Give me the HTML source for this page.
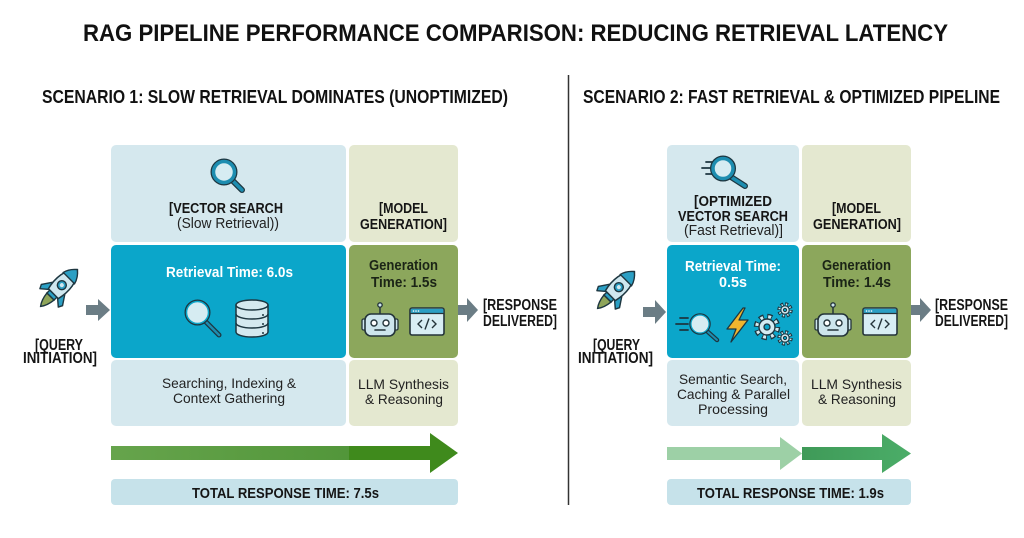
<!DOCTYPE html>
<html>
<head>
<meta charset="utf-8">
<style>
html,body{margin:0;padding:0;background:#fff;}
svg{display:block;}
text{font-family:"Liberation Sans",Arial,sans-serif;}
</style>
</head>
<body>
<svg width="1024" height="538" viewBox="0 0 1024 538" xmlns="http://www.w3.org/2000/svg">
<defs>
  <linearGradient id="g1" x1="0" x2="1" y1="0" y2="0">
    <stop offset="0" stop-color="#66a44c"/>
    <stop offset="1" stop-color="#52963a"/>
  </linearGradient>
  <linearGradient id="g2" x1="0" x2="1" y1="0" y2="0">
    <stop offset="0" stop-color="#3f9a58"/>
    <stop offset="1" stop-color="#4bad68"/>
  </linearGradient>
  <g id="rocket">
    <path d="M-5,12 Q-4,21 0,26 Q4,21 5,12Z" fill="#8fa55a" stroke="#1d3640" stroke-width="1.4"/>
    <path d="M-7,-2 L-15,10 L-13,14 L-6,8Z" fill="#2b9fc4" stroke="#1d3640" stroke-width="1.4" stroke-linejoin="round"/>
    <path d="M7,-2 L15,10 L13,14 L6,8Z" fill="#2b9fc4" stroke="#1d3640" stroke-width="1.4" stroke-linejoin="round"/>
    <rect x="-5" y="7" width="10" height="5" fill="#2b9fc4" stroke="#1d3640" stroke-width="1.4"/>
    <path d="M0,-26 C9,-18 10,-4 7,8 L-7,8 C-10,-4 -9,-18 0,-26Z" fill="#cfe7ef" stroke="#1d3640" stroke-width="1.5"/>
    <path d="M0,-26 C5,-22 7,-18 8,-14 L-8,-14 C-7,-18 -5,-22 0,-26Z" fill="#2b9fc4" stroke="#1d3640" stroke-width="1.4"/>
    <circle cx="0" cy="-4" r="4.5" fill="#2b9fc4" stroke="#1d3640" stroke-width="1.4"/>
    <circle cx="0" cy="-4" r="2" fill="#cfe7ef"/>
  </g>
  <g id="robot">
    <line x1="17" y1="4" x2="17" y2="12" stroke="#24343a" stroke-width="1.5"/>
    <circle cx="17" cy="3" r="2.2" fill="#cde5ec" stroke="#24343a" stroke-width="1.3"/>
    <rect x="-1" y="17" width="4" height="11" rx="1.5" fill="#cde5ec" stroke="#24343a" stroke-width="1.3"/>
    <rect x="31" y="17" width="4" height="11" rx="1.5" fill="#cde5ec" stroke="#24343a" stroke-width="1.3"/>
    <rect x="2" y="12" width="30" height="22" rx="6" fill="#cde5ec" stroke="#24343a" stroke-width="1.6"/>
    <circle cx="11" cy="21" r="3" fill="#fff" stroke="#24343a" stroke-width="1.4"/>
    <circle cx="23" cy="21" r="3" fill="#fff" stroke="#24343a" stroke-width="1.4"/>
    <line x1="12" y1="28" x2="22" y2="28" stroke="#24343a" stroke-width="1.6" stroke-linecap="round"/>
  </g>
  <g id="code">
    <rect x="0" y="0" width="34" height="27" rx="2" fill="#d8eef4" stroke="#24343a" stroke-width="1.6"/>
    <rect x="0.8" y="0.8" width="32.4" height="4.5" fill="#2b9fc4"/>
    <line x1="0" y1="5.5" x2="34" y2="5.5" stroke="#24343a" stroke-width="1.2"/>
    <circle cx="3.5" cy="3" r="0.8" fill="#fff"/><circle cx="6" cy="3" r="0.8" fill="#fff"/><circle cx="8.5" cy="3" r="0.8" fill="#fff"/>
    <path d="M12,12 L8,16 L12,20" fill="none" stroke="#24343a" stroke-width="1.4"/>
    <path d="M22,12 L26,16 L22,20" fill="none" stroke="#24343a" stroke-width="1.4"/>
    <line x1="19" y1="10.5" x2="15" y2="21.5" stroke="#24343a" stroke-width="1.4"/>
  </g>
</defs>

<!-- Title -->
<text x="83" y="41" font-size="24" font-weight="bold" fill="#111" textLength="865" lengthAdjust="spacingAndGlyphs">RAG PIPELINE PERFORMANCE COMPARISON: REDUCING RETRIEVAL LATENCY</text>
<text x="42" y="103" font-size="18" font-weight="bold" fill="#111" textLength="466" lengthAdjust="spacingAndGlyphs">SCENARIO 1: SLOW RETRIEVAL DOMINATES (UNOPTIMIZED)</text>
<text x="583" y="103" font-size="18" font-weight="bold" fill="#111" textLength="417" lengthAdjust="spacingAndGlyphs">SCENARIO 2: FAST RETRIEVAL &amp; OPTIMIZED PIPELINE</text>

<!-- Divider -->
<line x1="568.5" y1="75" x2="568.5" y2="505" stroke="#333" stroke-width="1.5"/>

<!-- ===== Scenario 1 ===== -->
<rect x="111" y="145" width="235" height="97" rx="5" fill="#d5e8ee"/>
<rect x="111" y="245" width="235" height="113" rx="5" fill="#0ba6ca"/>
<rect x="111" y="360" width="235" height="66" rx="5" fill="#d5e8ee"/>
<rect x="349" y="145" width="109" height="97" rx="5" fill="#e4e8d0"/>
<rect x="349" y="245" width="109" height="113" rx="5" fill="#8ca75c"/>
<rect x="349" y="360" width="109" height="66" rx="5" fill="#e4e8d0"/>

<!-- top magnifier -->
<line x1="232" y1="180" x2="242" y2="190" stroke="#1d3640" stroke-width="6" stroke-linecap="round"/>
<line x1="232" y1="180" x2="242" y2="190" stroke="#1d8db0" stroke-width="3.5" stroke-linecap="round"/>
<circle cx="224" cy="172" r="10.5" fill="#d6ecf2" stroke="#1d3640" stroke-width="6"/>
<circle cx="224" cy="172" r="10.5" fill="#d6ecf2" stroke="#1d8db0" stroke-width="3.5"/>

<text x="169" y="213" font-size="14.5" font-weight="bold" fill="#151515" textLength="114" lengthAdjust="spacingAndGlyphs">[VECTOR SEARCH</text>
<text x="177" y="228" font-size="14.5" fill="#222" textLength="102" lengthAdjust="spacingAndGlyphs">(Slow Retrieval))</text>

<text x="166" y="277" font-size="14.5" font-weight="bold" fill="#fff" textLength="127" lengthAdjust="spacingAndGlyphs">Retrieval Time: 6.0s</text>
<!-- mid magnifier -->
<line x1="206" y1="322" x2="219" y2="335" stroke="#1d3640" stroke-width="5" stroke-linecap="round"/>
<line x1="206" y1="322" x2="219" y2="335" stroke="#1d8db0" stroke-width="2.5" stroke-linecap="round"/>
<circle cx="197.5" cy="312.5" r="11" fill="#d6ecf2" stroke="#1d3640" stroke-width="4"/>
<circle cx="197.5" cy="312.5" r="11" fill="#d6ecf2" stroke="#0ba6ca" stroke-width="1.5"/>
<!-- database -->
<path d="M236,305 L236,332 A16,5 0 0 0 268,332 L268,305" fill="#d4e9ef" stroke="#1d3640" stroke-width="1.5"/>
<path d="M236,314 A16,5 0 0 0 268,314 M236,323 A16,5 0 0 0 268,323" fill="none" stroke="#1d3640" stroke-width="1.5"/>
<ellipse cx="252" cy="305" rx="16" ry="5" fill="#d4e9ef" stroke="#1d3640" stroke-width="1.5"/>
<circle cx="263" cy="315" r="1" fill="#1d3640"/><circle cx="263" cy="324" r="1" fill="#1d3640"/><circle cx="263" cy="333" r="1" fill="#1d3640"/>

<text x="162" y="388" font-size="14" fill="#222" textLength="134" lengthAdjust="spacingAndGlyphs">Searching, Indexing &amp;</text>
<text x="173" y="403" font-size="14" fill="#222" textLength="112" lengthAdjust="spacingAndGlyphs">Context Gathering</text>

<text x="379" y="213" font-size="14.5" font-weight="bold" fill="#151515" textLength="49" lengthAdjust="spacingAndGlyphs">[MODEL</text>
<text x="360" y="229" font-size="14.5" font-weight="bold" fill="#151515" textLength="87" lengthAdjust="spacingAndGlyphs">GENERATION]</text>
<text x="369" y="270" font-size="14.5" font-weight="bold" fill="#1b2416" textLength="69" lengthAdjust="spacingAndGlyphs">Generation</text>
<text x="371" y="287" font-size="14.5" font-weight="bold" fill="#1b2416" textLength="66" lengthAdjust="spacingAndGlyphs">Time: 1.5s</text>
<use href="#robot" x="363" y="302"/>
<use href="#code" x="410" y="308"/>
<text x="358" y="389" font-size="14" fill="#222" textLength="91" lengthAdjust="spacingAndGlyphs">LLM Synthesis</text>
<text x="365" y="404" font-size="14" fill="#222" textLength="78" lengthAdjust="spacingAndGlyphs">&amp; Reasoning</text>

<!-- rocket + arrows S1 -->
<use href="#rocket" transform="translate(59,288) rotate(45)"/>
<path d="M86,305 L98,305 L98,299 L110,310 L98,321 L98,315 L86,315Z" fill="#6b7d85"/>
<path d="M458,305 L467,305 L467,298 L478,310 L467,322 L467,315 L458,315Z" fill="#6b7d85"/>
<text x="35" y="350" font-size="16" font-weight="bold" fill="#151515" textLength="48" lengthAdjust="spacingAndGlyphs">[QUERY</text>
<text x="23" y="363" font-size="16" font-weight="bold" fill="#151515" textLength="74" lengthAdjust="spacingAndGlyphs">INITIATION]</text>
<text x="483" y="310" font-size="15.5" font-weight="bold" fill="#151515" textLength="74" lengthAdjust="spacingAndGlyphs">[RESPONSE</text>
<text x="483" y="326" font-size="15.5" font-weight="bold" fill="#151515" textLength="74" lengthAdjust="spacingAndGlyphs">DELIVERED]</text>

<!-- S1 big arrow -->
<rect x="111" y="446" width="238" height="14" fill="url(#g1)"/>
<path d="M349,446 L430,446 L430,433 L458,453 L430,473 L430,460 L349,460Z" fill="#3f8a1c"/>
<rect x="111" y="479" width="347" height="26" rx="4" fill="#c6e2ea"/>
<text x="192" y="498" font-size="15" font-weight="bold" fill="#151515" textLength="187" lengthAdjust="spacingAndGlyphs">TOTAL RESPONSE TIME: 7.5s</text>

<!-- ===== Scenario 2 ===== -->
<rect x="667" y="145" width="132" height="97" rx="5" fill="#d5e8ee"/>
<rect x="667" y="245" width="132" height="113" rx="5" fill="#0ba6ca"/>
<rect x="667" y="360" width="132" height="66" rx="5" fill="#d5e8ee"/>
<rect x="802" y="145" width="109" height="97" rx="5" fill="#e4e8d0"/>
<rect x="802" y="245" width="109" height="113" rx="5" fill="#8ca75c"/>
<rect x="802" y="360" width="109" height="66" rx="5" fill="#e4e8d0"/>

<!-- top fast magnifier -->
<g stroke="#1d3640" stroke-width="1.8" stroke-linecap="round">
  <line x1="706" y1="162" x2="713" y2="162"/>
  <line x1="702" y1="168" x2="711" y2="168"/>
  <line x1="706" y1="174" x2="712" y2="174"/>
</g>
<line x1="731" y1="177" x2="745" y2="186" stroke="#1d3640" stroke-width="6" stroke-linecap="round"/>
<line x1="731" y1="177" x2="745" y2="186" stroke="#1d8db0" stroke-width="3.5" stroke-linecap="round"/>
<circle cx="723" cy="168.5" r="10" fill="#d6ecf2" stroke="#1d3640" stroke-width="6"/>
<circle cx="723" cy="168.5" r="10" fill="#d6ecf2" stroke="#1d8db0" stroke-width="3.5"/>

<text x="694" y="206" font-size="14.5" font-weight="bold" fill="#151515" textLength="78" lengthAdjust="spacingAndGlyphs">[OPTIMIZED</text>
<text x="678" y="221" font-size="14.5" font-weight="bold" fill="#151515" textLength="110" lengthAdjust="spacingAndGlyphs">VECTOR SEARCH</text>
<text x="684" y="235" font-size="14.5" fill="#222" textLength="99" lengthAdjust="spacingAndGlyphs">(Fast Retrieval)]</text>

<text x="685" y="271" font-size="14.5" font-weight="bold" fill="#fff" textLength="96" lengthAdjust="spacingAndGlyphs">Retrieval Time:</text>
<text x="719" y="287" font-size="14.5" font-weight="bold" fill="#fff" textLength="28" lengthAdjust="spacingAndGlyphs">0.5s</text>

<!-- mid icons S2 -->
<g stroke="#1d3640" stroke-width="1.8" stroke-linecap="round">
  <line x1="680" y1="318" x2="688" y2="318"/>
  <line x1="676" y1="324" x2="688" y2="324"/>
  <line x1="680" y1="330" x2="688" y2="330"/>
</g>
<line x1="708" y1="332" x2="717" y2="340" stroke="#1d3640" stroke-width="4.5" stroke-linecap="round"/>
<line x1="708" y1="332" x2="717" y2="340" stroke="#1d8db0" stroke-width="2" stroke-linecap="round"/>
<circle cx="700" cy="324" r="9" fill="#d6ecf2" stroke="#1d3640" stroke-width="3.5"/>
<circle cx="700" cy="324" r="9" fill="#d6ecf2" stroke="#0ba6ca" stroke-width="1.2"/>
<path d="M743,308 L727,329 L736,329 L731,342 L748,320 L739,320 L745,308Z" fill="#f0b52e" stroke="#1d3640" stroke-width="1.3" stroke-linejoin="round"/>
<!-- gears (outlined teeth) -->
<circle cx="767" cy="327" r="10" fill="none" stroke="#1d3640" stroke-width="6.5" stroke-dasharray="4.6 3.25"/>
<circle cx="767" cy="327" r="10" fill="none" stroke="#d4ecf2" stroke-width="3.6" stroke-dasharray="2.8 5.05" stroke-dashoffset="-0.9"/>
<circle cx="767" cy="327" r="8" fill="#d4ecf2" stroke="#1d3640" stroke-width="1.4"/>
<circle cx="767" cy="327" r="3" fill="#0ba6ca" stroke="#1d3640" stroke-width="1.3"/>
<circle cx="785" cy="310" r="5.5" fill="none" stroke="#1d3640" stroke-width="4.5" stroke-dasharray="2.6 1.72"/>
<circle cx="785" cy="310" r="5.5" fill="none" stroke="#d4ecf2" stroke-width="2.2" stroke-dasharray="1.2 3.12" stroke-dashoffset="-0.7"/>
<circle cx="785" cy="310" r="4.2" fill="#d4ecf2" stroke="#1d3640" stroke-width="1.1"/>
<circle cx="785" cy="310" r="1.6" fill="#0ba6ca" stroke="#1d3640" stroke-width="1"/>
<circle cx="785" cy="338" r="5.5" fill="none" stroke="#1d3640" stroke-width="4.5" stroke-dasharray="2.6 1.72"/>
<circle cx="785" cy="338" r="5.5" fill="none" stroke="#d4ecf2" stroke-width="2.2" stroke-dasharray="1.2 3.12" stroke-dashoffset="-0.7"/>
<circle cx="785" cy="338" r="4.2" fill="#d4ecf2" stroke="#1d3640" stroke-width="1.1"/>
<circle cx="785" cy="338" r="1.6" fill="#0ba6ca" stroke="#1d3640" stroke-width="1"/>

<text x="679" y="384" font-size="14" fill="#222" textLength="108" lengthAdjust="spacingAndGlyphs">Semantic Search,</text>
<text x="677" y="399" font-size="14" fill="#222" textLength="113" lengthAdjust="spacingAndGlyphs">Caching &amp; Parallel</text>
<text x="698" y="414" font-size="14" fill="#222" textLength="70" lengthAdjust="spacingAndGlyphs">Processing</text>

<text x="832" y="213" font-size="14.5" font-weight="bold" fill="#151515" textLength="49" lengthAdjust="spacingAndGlyphs">[MODEL</text>
<text x="813" y="229" font-size="14.5" font-weight="bold" fill="#151515" textLength="88" lengthAdjust="spacingAndGlyphs">GENERATION]</text>
<text x="822" y="270" font-size="14.5" font-weight="bold" fill="#1b2416" textLength="69" lengthAdjust="spacingAndGlyphs">Generation</text>
<text x="823" y="287" font-size="14.5" font-weight="bold" fill="#1b2416" textLength="68" lengthAdjust="spacingAndGlyphs">Time: 1.4s</text>
<use href="#robot" x="816" y="302"/>
<use href="#code" x="863" y="308"/>
<text x="811" y="389" font-size="14" fill="#222" textLength="91" lengthAdjust="spacingAndGlyphs">LLM Synthesis</text>
<text x="818" y="404" font-size="14" fill="#222" textLength="78" lengthAdjust="spacingAndGlyphs">&amp; Reasoning</text>

<!-- rocket + arrows S2 -->
<use href="#rocket" transform="translate(616,290) rotate(45)"/>
<path d="M643,307 L655,307 L655,300 L666,312 L655,324 L655,317 L643,317Z" fill="#6b7d85"/>
<path d="M911,305 L920,305 L920,298 L931,310 L920,322 L920,315 L911,315Z" fill="#6b7d85"/>
<text x="593" y="350" font-size="16" font-weight="bold" fill="#151515" textLength="47" lengthAdjust="spacingAndGlyphs">[QUERY</text>
<text x="578" y="363" font-size="16" font-weight="bold" fill="#151515" textLength="75" lengthAdjust="spacingAndGlyphs">INITIATION]</text>
<text x="935" y="310" font-size="15.5" font-weight="bold" fill="#151515" textLength="73" lengthAdjust="spacingAndGlyphs">[RESPONSE</text>
<text x="935" y="326" font-size="15.5" font-weight="bold" fill="#151515" textLength="73" lengthAdjust="spacingAndGlyphs">DELIVERED]</text>

<!-- S2 arrows -->
<path d="M667,447 L780,447 L780,437 L802,453.5 L780,470 L780,460 L667,460Z" fill="#9dd0a6"/>
<path d="M802,447 L882,447 L882,434 L911,453.5 L882,473 L882,460 L802,460Z" fill="url(#g2)"/>
<rect x="667" y="479" width="244" height="26" rx="4" fill="#c6e2ea"/>
<text x="697" y="498" font-size="15" font-weight="bold" fill="#151515" textLength="187" lengthAdjust="spacingAndGlyphs">TOTAL RESPONSE TIME: 1.9s</text>
</svg>
</body>
</html>
